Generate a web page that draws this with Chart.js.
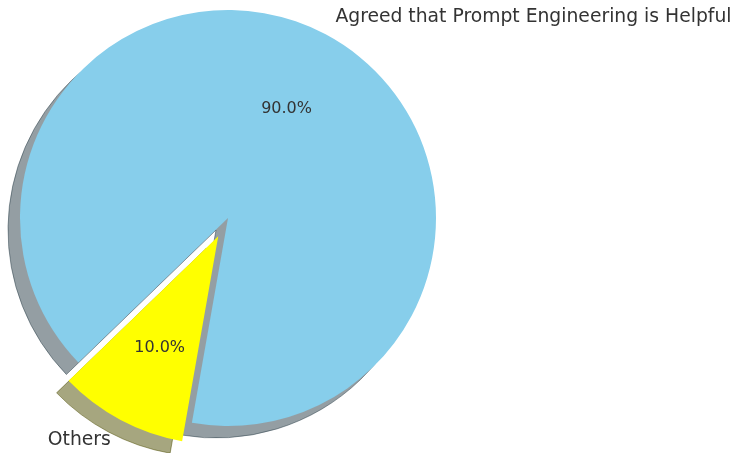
<!DOCTYPE html>
<html lang="en">
<head>
    <meta charset="UTF-8">
    <title>Prompt Engineering Survey</title>
    <script src="https://cdn.jsdelivr.net/npm/chart.js@4.4.0/dist/chart.umd.min.js"></script>
    <style>
        body { margin: 0; background: #fff; }
        #wrap { width: 736px; height: 453px; position: relative; }
    </style>
</head>
<body>
    <div id="wrap"><canvas id="pieChart"></canvas></div>

    <script>
        // Survey answers
        const labels = ['Agreed that Prompt Engineering is Helpful', 'Others'];
        const values = [90, 10];
        const colors = ['#87ceeb', '#ffff00'];
        const explode = [0, 0.1]; // fraction of the radius to pull a slice out

        const textColor = '#333333';
        const fontFamily = '"DejaVu Sans", sans-serif';

        // darker, half transparent copy of a colour for the drop shadow
        function shade(hex, alpha) {
            const n = parseInt(hex.slice(1), 16);
            const r = Math.round(((n >> 16) & 255) * 0.3);
            const g = Math.round(((n >> 8) & 255) * 0.3);
            const b = Math.round((n & 255) * 0.3);
            return `rgba(${r}, ${g}, ${b}, ${alpha})`;
        }

        // moves exploded slices out along their middle angle
        const explodePlugin = {
            id: 'explode',
            afterDatasetUpdate(chart, args) {
                const meta = chart.getDatasetMeta(args.index);
                meta.data.forEach((arc, i) => {
                    const amount = explode[i] || 0;
                    if (!amount) return;
                    const mid = (arc.startAngle + arc.endAngle) / 2;
                    arc.x += Math.cos(mid) * amount * arc.outerRadius;
                    arc.y += Math.sin(mid) * amount * arc.outerRadius;
                });
            }
        };

        // drop shadow under every slice, offset down and to the left
        const shadowPlugin = {
            id: 'pieShadow',
            beforeDatasetsDraw(chart) {
                const ctx = chart.ctx;
                const meta = chart.getDatasetMeta(0);
                ctx.save();
                ctx.translate(-12, 12);
                meta.data.forEach((arc, i) => {
                    const p = arc.getProps(['x', 'y', 'startAngle', 'endAngle', 'outerRadius'], true);
                    ctx.beginPath();
                    ctx.moveTo(p.x, p.y);
                    ctx.arc(p.x, p.y, p.outerRadius, p.startAngle, p.endAngle);
                    ctx.closePath();
                    ctx.fillStyle = shade(colors[i], 0.5);
                    ctx.strokeStyle = shade(colors[i], 0.5);
                    ctx.lineWidth = 1;
                    ctx.fill();
                    ctx.stroke();
                });
                ctx.restore();
            }
        };

        // category names outside the pie, percentages inside
        const labelPlugin = {
            id: 'pieLabels',
            afterDatasetsDraw(chart) {
                const ctx = chart.ctx;
                const meta = chart.getDatasetMeta(0);
                const total = values.reduce((a, b) => a + b, 0);
                ctx.save();
                ctx.fillStyle = textColor;
                ctx.textBaseline = 'middle';
                meta.data.forEach((arc, i) => {
                    const p = arc.getProps(['x', 'y', 'startAngle', 'endAngle', 'outerRadius'], true);
                    const mid = (p.startAngle + p.endAngle) / 2;
                    const cx = Math.cos(mid), cy = Math.sin(mid);

                    ctx.font = `18.75px ${fontFamily}`;
                    ctx.textAlign = cx > 0 ? 'left' : 'right';
                    ctx.fillText(labels[i], p.x + cx * p.outerRadius * 1.1, p.y + cy * p.outerRadius * 1.1 + 1.5);

                    ctx.font = `16px ${fontFamily}`;
                    ctx.textAlign = 'center';
                    const pct = (values[i] / total * 100).toFixed(1) + '%';
                    ctx.fillText(pct, p.x + cx * p.outerRadius * 0.6, p.y + cy * p.outerRadius * 0.6 + 1.5);
                });
                ctx.restore();
            }
        };

        new Chart(document.getElementById('pieChart'), {
            type: 'pie',
            data: {
                labels: labels,
                datasets: [{
                    data: values,
                    backgroundColor: colors,
                    borderWidth: 0,
                    radius: 208
                }]
            },
            options: {
                responsive: true,
                maintainAspectRatio: false,
                animation: false,
                rotation: 226,
                layout: { padding: { left: 0, top: 0, right: 280, bottom: 17 } },
                plugins: {
                    legend: { display: false },
                    tooltip: { enabled: false }
                }
            },
            plugins: [explodePlugin, shadowPlugin, labelPlugin]
        });
    </script>
</body>
</html>
